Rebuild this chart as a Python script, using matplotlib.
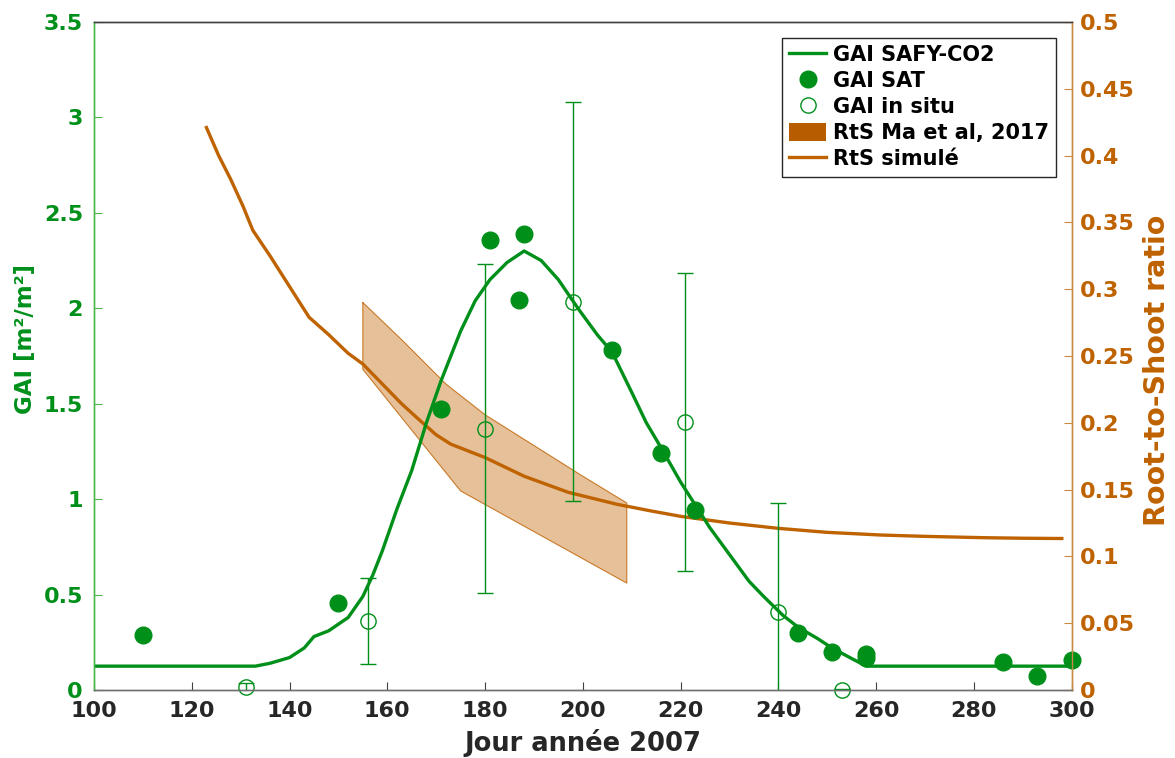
import numpy as np
import matplotlib.pyplot as plt
from matplotlib.lines import Line2D
from matplotlib.patches import Patch

# GAI simule SAFY-CO2
jour_sim = [100, 133, 136, 140, 143, 145, 148, 152, 155, 157, 159, 162, 165, 168, 171,
            173, 175, 178, 181, 184.5, 188, 191.5, 195, 199, 203, 206, 210, 213, 216,
            220, 223, 226, 230, 234, 237, 241, 244, 248, 251, 255, 258, 300]
gai_sim = [0.125, 0.125, 0.14, 0.17, 0.22, 0.28, 0.31, 0.38, 0.49, 0.60, 0.73, 0.95, 1.15,
           1.40, 1.62, 1.75, 1.88, 2.04, 2.15, 2.24, 2.30, 2.25, 2.15, 2.00, 1.86, 1.77,
           1.56, 1.40, 1.27, 1.09, 0.97, 0.85, 0.71, 0.57, 0.49, 0.39, 0.33, 0.27, 0.22,
           0.165, 0.125, 0.125]

# GAI satellite
jour_sat = [110, 150, 171, 181, 187, 188, 206, 216, 223, 244, 251, 258, 258, 286, 293, 300]
gai_sat = [0.29, 0.455, 1.47, 2.36, 2.045, 2.39, 1.78, 1.24, 0.945, 0.30, 0.20, 0.17,
           0.19, 0.145, 0.075, 0.155]

# GAI in situ
jour_insitu = [131, 156, 180, 198, 221, 240, 253]
gai_insitu = [0.015, 0.36, 1.37, 2.035, 1.405, 0.41, 0.0]
err_insitu = [0.02, 0.225, 0.86, 1.045, 0.78, 0.57, 0.003]

# RtS Ma et al 2017 (enveloppe)
jour_ma_haut = [155, 163, 172, 180, 190, 200, 209]
rts_ma_haut = [0.29, 0.262, 0.229, 0.206, 0.183, 0.16, 0.14]
jour_ma_bas = [155, 175, 209]
rts_ma_bas = [0.24, 0.149, 0.080]

# RtS simule
jour_rts = [123, 125.5, 128, 130.5, 132.5, 136, 140, 144, 148, 152, 155, 159, 163, 166,
            170, 173, 180, 188, 197, 207, 214, 220, 230, 240, 250, 261, 270, 282, 290, 298]
rts_sim = [0.421, 0.40, 0.382, 0.362, 0.344, 0.325, 0.302, 0.279, 0.266, 0.252, 0.244,
           0.229, 0.214, 0.204, 0.191, 0.184, 0.174, 0.160, 0.148, 0.139, 0.134, 0.130,
           0.125, 0.121, 0.118, 0.116, 0.115, 0.114, 0.1136, 0.1134]

vert = '#00901a'
vert_clair = '#4cb84c'
orange = '#bf6200'
gris = '#262626'

plt.rcParams['font.family'] = 'DejaVu Sans'
plt.rcParams['font.weight'] = 'bold'

fig = plt.figure(figsize=(11.75, 7.58), dpi=100)
ax = fig.add_axes([0.080, 0.0897, 0.832, 0.8813])
ax2 = ax.twinx()

# cote droit : RtS
x_poly = jour_ma_haut + jour_ma_bas[::-1]
y_poly = rts_ma_haut + rts_ma_bas[::-1]
ax2.fill(x_poly, y_poly, facecolor=orange, alpha=0.4, edgecolor='none')
ax2.plot(x_poly + [x_poly[0]], y_poly + [y_poly[0]], color=orange, lw=0.8, alpha=0.8)
ax2.plot(jour_rts, rts_sim, color=orange, lw=2.4)
ax2.set_ylim(0, 0.5)
ax2.set_yticks(np.arange(0, 0.501, 0.05))
ax2.set_yticklabels(['%g' % v for v in np.arange(0, 0.501, 0.05).round(2)])

# cote gauche : GAI
ax.set_zorder(ax2.get_zorder() + 1)
ax.patch.set_visible(False)
ax.plot(jour_sim, gai_sim, color=vert, lw=2.4)
ax.errorbar(jour_insitu, gai_insitu, yerr=err_insitu, fmt='none', ecolor=vert,
            elinewidth=1.0, capsize=6, capthick=1.0)
ax.plot(jour_insitu, gai_insitu, 'o', mfc='none', mec=vert, ms=11, mew=1.0, clip_on=False)
ax.plot(jour_sat, gai_sat, 'o', color=vert, ms=12, clip_on=False)
ax.set_xlim(100, 300)
ax.set_ylim(0, 3.5)
ax.set_xticks(np.arange(100, 301, 20))
ax.set_yticks(np.arange(0, 3.51, 0.5))
ax.set_yticklabels(['%g' % v for v in np.arange(0, 3.51, 0.5)])

ax.tick_params(axis='x', direction='in', length=6, width=0.8, colors='#404040',
               labelcolor=gris, labelsize=16, pad=8, top=False)
ax.tick_params(axis='y', direction='in', length=6, width=0.8, colors=vert_clair,
               labelcolor=vert, labelsize=16, pad=8)
ax2.tick_params(axis='y', direction='in', length=6, width=0.8, colors='#c98a45',
                labelcolor=orange, labelsize=16, pad=6)

for a in (ax, ax2):
    a.spines['left'].set_color(vert_clair)
    a.spines['right'].set_color('#c98a45')
    a.spines['bottom'].set_color('#707070')
    a.spines['top'].set_color('#404040')
    for s in a.spines.values():
        s.set_linewidth(1.0)

ax.set_xlabel('Jour année 2007', fontsize=18.5, fontweight='bold', color=gris, labelpad=6)
ax.set_ylabel('GAI [m²/m²]', fontsize=16.5, fontweight='bold', color=vert)
ax.yaxis.set_label_coords(-0.058, 0.525)
ax2.set_ylabel('Root-to-Shoot ratio', fontsize=20.5, fontweight='bold', color=orange)
ax2.yaxis.set_label_coords(1.073, 0.478)

handles = [
    Line2D([], [], color=vert, lw=2.4),
    Line2D([], [], ls='none', marker='o', color=vert, ms=12),
    Line2D([], [], ls='none', marker='o', mfc='none', mec=vert, ms=11, mew=1.0),
    Patch(facecolor='#b85c00', edgecolor='none'),
    Line2D([], [], color=orange, lw=2.4),
]
labels = ['GAI SAFY-CO2', 'GAI SAT', 'GAI in situ', 'RtS Ma et al, 2017', 'RtS simulé']
leg = ax.legend(handles, labels, loc='upper right', bbox_to_anchor=(0.984, 0.976),
                borderaxespad=0, fancybox=False, framealpha=1, edgecolor=gris,
                prop={'size': 15, 'weight': 'bold'}, handlelength=1.8, handletextpad=0.3,
                handleheight=0.95, labelspacing=0.28, borderpad=0.35)
leg.get_frame().set_linewidth(1.0)

fig.savefig('out.png', dpi=100)
